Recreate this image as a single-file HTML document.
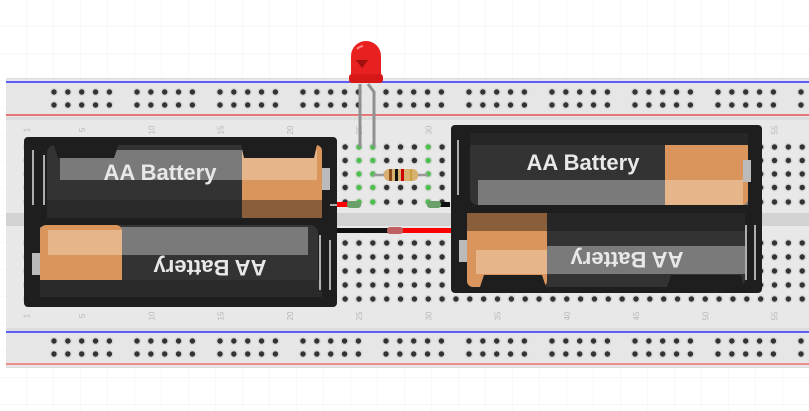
<!DOCTYPE html>
<html><head><style>
body{margin:0;background:#fff;}
svg{display:block;}
</style></head><body>
<svg id="s" width="809" height="411" xmlns="http://www.w3.org/2000/svg" font-family="Liberation Sans, sans-serif">
<defs>
<pattern id="grid" width="27" height="27" patternUnits="userSpaceOnUse"><path d="M27 0V27H0" fill="none" stroke="#eef2f6" stroke-width="1"/></pattern>
</defs>
<rect width="809" height="411" fill="#fff"/>
<rect width="809" height="411" fill="url(#grid)"/>
<rect x="6" y="78" width="803" height="290" fill="#dcdcdc"/>
<rect x="6" y="79" width="803" height="38" fill="#e6e6e6"/>
<rect x="6" y="120" width="803" height="93" fill="#e8e8e8"/>
<rect x="6" y="213" width="803" height="13" fill="#d2d2d2"/>
<rect x="6" y="226" width="803" height="102" fill="#e8e8e8"/>
<rect x="6" y="331" width="803" height="36" fill="#e6e6e6"/>
<line x1="6" y1="82" x2="809" y2="82" stroke="#3030ff" stroke-width="1.5"/>
<line x1="6" y1="115" x2="809" y2="115" stroke="#e85050" stroke-width="1.5"/>
<line x1="6" y1="332" x2="809" y2="332" stroke="#3030ff" stroke-width="1.5"/>
<line x1="6" y1="364" x2="809" y2="364" stroke="#ee7070" stroke-width="1.5"/>
<g id="holes" fill="#333"></g>
<g id="labels" fill="#b8b8b8" font-size="8"></g>

<g>
<rect x="24" y="137" width="313" height="170" rx="4" fill="#1e1e1e"/>
<rect x="47" y="145" width="275" height="73" rx="8" fill="#333"/>
<rect x="60" y="150" width="262" height="30" fill="#7a7a7a"/>
<rect x="242" y="145" width="80" height="73" rx="6" fill="#d9955c"/>
<rect x="242" y="150" width="75" height="30" fill="#e6b58a"/>
<rect x="242" y="200" width="80" height="18" fill="#8a5e3a"/>
<rect x="47" y="200" width="195" height="18" fill="#2a2a2a"/>
<path d="M52 140h68l-6 18h-56z M240 140h78l-4 18h-70z" fill="#1e1e1e"/>
<text x="160" y="180" font-size="22" font-weight="bold" fill="#e8e8e8" text-anchor="middle">AA Battery</text>
<rect x="40" y="225" width="278" height="72" rx="8" fill="#333"/>
<rect x="40" y="227" width="268" height="28" fill="#7a7a7a"/>
<rect x="40" y="225" width="82" height="72" rx="6" fill="#d9955c"/>
<rect x="48" y="230" width="74" height="25" fill="#e6b58a"/>
<rect x="40" y="280" width="282" height="17" fill="#2a2a2a"/>
<text x="0" y="0" font-size="22" font-weight="bold" fill="#e8e8e8" text-anchor="middle" transform="translate(210,260) rotate(180)">AA Battery</text>
<rect x="322" y="168" width="8" height="22" fill="#bbb"/>
<rect x="32" y="253" width="8" height="22" fill="#bbb"/>
<path d="M33 150v55M44 155v50M320 235v55M330 240v50" stroke="#ddd" stroke-width="1.5" fill="none"/>
</g>
<g>
<rect x="451" y="125" width="311" height="168" rx="4" fill="#1e1e1e"/>
<rect x="470" y="133" width="278" height="72" rx="8" fill="#333"/>
<rect x="478" y="180" width="270" height="25" fill="#7a7a7a"/>
<rect x="665" y="133" width="83" height="72" rx="6" fill="#d9955c"/>
<rect x="665" y="180" width="78" height="25" fill="#e6b58a"/>
<rect x="470" y="133" width="278" height="12" fill="#262626"/>
<text x="583" y="170" font-size="22" font-weight="bold" fill="#e8e8e8" text-anchor="middle">AA Battery</text>
<rect x="467" y="213" width="278" height="74" rx="8" fill="#333"/>
<rect x="467" y="246" width="278" height="28" fill="#7a7a7a"/>
<rect x="467" y="213" width="80" height="74" rx="6" fill="#d9955c"/>
<rect x="467" y="213" width="80" height="18" fill="#8a5e3a"/>
<rect x="476" y="250" width="71" height="24" fill="#e6b58a"/>
<rect x="547" y="213" width="198" height="18" fill="#262626"/>
<path d="M478 293l6-18h58l6 18z M665 293l6-18h70l4 18z" fill="#1e1e1e"/>
<text x="0" y="0" font-size="22" font-weight="bold" fill="#e8e8e8" text-anchor="middle" transform="translate(627,252) rotate(180)">AA Battery</text>
<rect x="743" y="160" width="8" height="22" fill="#bbb"/>
<rect x="459" y="240" width="8" height="22" fill="#bbb"/>
<path d="M458 140v55M746 225v55M755 225v55" stroke="#ddd" stroke-width="1.5" fill="none"/>
</g>
<path d="M330 205h8" stroke="#ddd" stroke-width="1.5"/>
<rect x="337" y="202" width="12" height="5" fill="#f00"/>
<rect x="347" y="201" width="14" height="7" rx="3" fill="#6aa06a"/>
<rect x="430" y="202" width="20" height="5" fill="#111"/>
<rect x="427" y="201" width="14" height="7" rx="3" fill="#6aa06a"/>
<rect x="337" y="228" width="65" height="5" fill="#111"/>
<rect x="400" y="228" width="51" height="5" fill="#f00"/>
<rect x="387" y="227" width="16" height="7" rx="3" fill="#c06060"/>
<path d="M360 84V147" stroke="#909090" stroke-width="3"/>
<path d="M368 84l6 8V147" stroke="#909090" stroke-width="3" fill="none"/>
<path d="M351 80V56a15 15 0 0 1 30 0V80z" fill="#e82020"/>
<rect x="349" y="74" width="34" height="9" rx="3" fill="#d81818"/>
<path d="M356 60h12l-6 8z" fill="#a01010"/>
<path d="M357 49a10 10 0 0 1 6-3" stroke="#ff8080" stroke-width="2" fill="none"/>
<line x1="373" y1="175" x2="428" y2="175" stroke="#999" stroke-width="2.5"/>
<rect x="384" y="169" width="34" height="12" rx="5" fill="#d8b070"/>
<rect x="389" y="169" width="3" height="12" fill="#8a4a1a"/>
<rect x="395" y="169" width="3" height="12" fill="#111"/>
<rect x="401" y="169" width="3" height="12" fill="#c00"/>
<rect x="410" y="169" width="2" height="12" fill="#c8a040"/>
</svg>
<script>
(function(){
var ns="http://www.w3.org/2000/svg",H=document.getElementById('holes'),L=document.getElementById('labels');
function c(x,y,f){var h=document.createElementNS(ns,'circle');h.setAttribute('cx',x);h.setAttribute('cy',y);h.setAttribute('r',4);h.setAttribute('fill','#d4d4d4');H.appendChild(h);
var e=document.createElementNS(ns,'circle');e.setAttribute('cx',x);e.setAttribute('cy',y);e.setAttribute('r',2.7);if(f)e.setAttribute('fill',f);H.appendChild(e);}
var p=13.85;function cx(n){return 359+(n-25)*p;}
var rowsT=[147,160.5,174,187.5,202],rowsB=[243,257,271,285,299];
var green={};
[25,26,30].forEach(function(n){for(var r=0;r<5;r++)green[n+'_'+r]=1;});
for(var n=1;n<=57;n++){var x=cx(n);
 for(var r=0;r<5;r++){c(x,rowsT[r],green[n+'_'+r]?'#4cc04c':null);c(x,rowsB[r]);}
 if(n==1||n%5==0){[130,316].forEach(function(y){var t=document.createElementNS(ns,'text');t.setAttribute('transform','translate('+(x+3)+','+y+') rotate(-90)');t.setAttribute('text-anchor','middle');t.textContent=n;L.appendChild(t);});}
}
for(var k=0;k<10;k++)for(var i=0;i<5;i++){var x=54+k*83+i*p;if(x>805)continue;c(x,92);c(x,105);c(x,341);c(x,354);}
})();
</script>
</body></html>
